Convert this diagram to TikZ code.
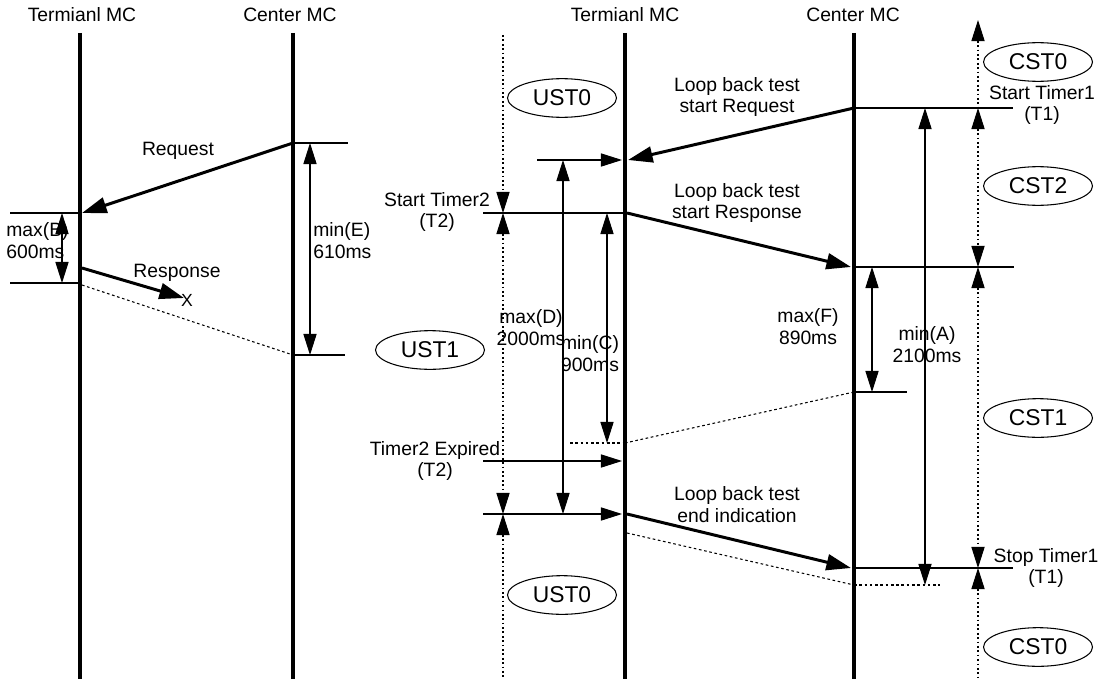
\documentclass[tikz,border=0pt]{standalone}
\usepackage{fontspec}
\setmainfont{Liberation Sans}
\usetikzlibrary{arrows.meta, shapes.geometric}

\begin{document}
\begin{tikzpicture}[
    x=0.02cm, y=-0.02cm,
    every node/.style={font=\fontsize{11}{12.5}\selectfont, inner sep=0pt, align=center},
    life/.style={line width=2.6pt},
    msg/.style={line width=1.7pt, -{Triangle[length=14pt,width=9pt]}},
    hline/.style={line width=0.6pt},
    hdot/.style={line width=0.6pt, dash pattern=on 1.5pt off 1.5pt},
    tickarrow/.style={line width=0.6pt, -{Triangle[length=12pt,width=7.5pt]}},
    span/.style={line width=0.6pt, {Triangle[length=12pt,width=7.5pt]}-{Triangle[length=12pt,width=7.5pt]}},
    timer/.style={line width=0.6pt, dash pattern=on 1pt off 1.5pt},
    state/.style={draw, ellipse, line width=0.6pt, minimum width=62pt,
      minimum height=22pt, font=\fontsize{13}{15}\selectfont}
]
\useasboundingbox (0,0) rectangle (1104,679);

% lifelines, left part
\node (termL) at (82,15) {Termianl MC};
\node (centL) at (290,15) {Center MC};
\coordinate (termLtop) at (80,33);
\coordinate (termLbot) at (80,679);
\coordinate (centLtop) at (293,33);
\coordinate (centLbot) at (293,679);
\draw[life] (termLtop) -- (termLbot);
\draw[life] (centLtop) -- (centLbot);

% lifelines, right part
\node (termR) at (625,15) {Termianl MC};
\node (centR) at (853,15) {Center MC};
\coordinate (termRtop) at (625,33);
\coordinate (termRbot) at (625,679);
\coordinate (centRtop) at (854,33);
\coordinate (centRbot) at (854,679);
\draw[life] (termRtop) -- (termRbot);
\draw[life] (centRtop) -- (centRbot);

% left: request / lost response
\coordinate (reqS) at (293,143);
\coordinate (reqE) at (82,213);
\coordinate (rspS) at (82,268);
\coordinate (rspE) at (184,298);
\coordinate (lostS) at (82,285);
\coordinate (lostE) at (293,355);
\draw[msg] (reqS) -- (reqE);
\draw[msg] (rspS) -- (rspE);
\draw[hdot] (lostS) -- (lostE);
\node (reqLbl) at (178,151) {Request};
\node (rspLbl) at (177,273) {Response};
\node[font=\fontsize{10}{12}\selectfont] (lostX) at (187,300) {X};

\coordinate (bTop) at (10,213);
\coordinate (bBot) at (10,283);
\coordinate (eTop) at (348,143);
\coordinate (eBot) at (345,355);
\draw[hline] (bTop) -- (reqE);
\draw[hline] (bBot) -- (80,283);
\draw[hline] (reqS) -- (eTop);
\draw[hline] (lostE) -- (eBot);
\draw[span] (62,213) -- (62,283);
\draw[span] (310,143) -- (310,355);
\node[anchor=west, align=left] (bLbl) at (6,241) {max(B)\\600ms};
\node[anchor=west, align=left] (eLbl) at (313,241) {min(E)\\610ms};

% right: states
\node[state] (ust0a) at (562,98) {UST0};
\node[state] (ust1) at (430,350) {UST1};
\node[state] (ust0b) at (562,595) {UST0};
\node[state] (cst0a) at (1038,62) {CST0};
\node[state] (cst2) at (1038,186) {CST2};
\node[state] (cst1) at (1038,418) {CST1};
\node[state] (cst0b) at (1038,647) {CST0};

% right: messages
\coordinate (lbReqS) at (854,108);
\coordinate (lbReqE) at (628,160);
\coordinate (lbRspS) at (627,213);
\coordinate (lbRspE) at (851,267);
\coordinate (lbEndS) at (627,514);
\coordinate (lbEndE) at (851,568);
\draw[msg] (lbReqS) -- (lbReqE);
\draw[msg] (lbRspS) -- (lbRspE);
\draw[msg] (lbEndS) -- (lbEndE);
\node (lbReqLbl) at (737,97) {Loop back test\\start Request};
\node (lbRspLbl) at (737,203) {Loop back test\\start Response};
\node (lbEndLbl) at (737,505) {Loop back test\\end indication};

% right: lost (dotted) paths
\coordinate (late1S) at (625,443);
\coordinate (late1E) at (854,392);
\coordinate (late2S) at (627,533);
\coordinate (late2E) at (854,585);
\draw[hdot] (late1S) -- (late1E);
\draw[hdot] (late2S) -- (late2E);
\draw[hdot] (570,443) -- (late1S);
\draw[hdot] (late2E) -- (940,585);

% right: timer marks
\draw[hline] (lbReqS) -- (1013,108);
\draw[tickarrow] (537,160) -- (622,160);
\draw[hline] (483,213) -- (lbRspS);
\draw[hline] (854,267) -- (1014,267);
\draw[hline] (late1E) -- (907,392);
\draw[tickarrow] (483,461) -- (622,461);
\draw[tickarrow] (483,514) -- (622,514);
\draw[hline] (854,568) -- (1013,568);

% right: durations
\draw[span] (563,160) -- (563,514);
\draw[span] (607,213) -- (607,443);
\draw[span] (872,267) -- (872,392);
\draw[span] (925,108) -- (925,585);
\node (dLbl) at (531,328) {max(D)\\2000ms};
\node (cLbl) at (590,354) {min(C)\\900ms};
\node (fLbl) at (808,327) {max(F)\\890ms};
\node (aLbl) at (927,345) {min(A)\\2100ms};

% state time lines
\draw[timer, -{Triangle[length=12pt,width=7.5pt]}] (503,35) -- (503,213);
\draw[timer, {Triangle[length=12pt,width=7.5pt]}-{Triangle[length=12pt,width=7.5pt]}] (503,213) -- (503,514);
\draw[timer, {Triangle[length=12pt,width=7.5pt]}-] (503,514) -- (503,679);
\draw[timer, {Triangle[length=12pt,width=7.5pt]}-] (978,20) -- (978,108);
\draw[timer, {Triangle[length=12pt,width=7.5pt]}-{Triangle[length=12pt,width=7.5pt]}] (978,108) -- (978,267);
\draw[timer, {Triangle[length=12pt,width=7.5pt]}-{Triangle[length=12pt,width=7.5pt]}] (978,267) -- (978,568);
\draw[timer, {Triangle[length=12pt,width=7.5pt]}-] (978,568) -- (978,679);

\node (t2Start) at (437,212) {Start Timer2\\(T2)};
\node (t2Exp) at (435,461) {Timer2 Expired\\(T2)};
\node (t1Start) at (1042,105) {Start Timer1\\(T1)};
\node (t1Stop) at (1046,568) {Stop Timer1\\(T1)};
\end{tikzpicture}
\end{document}
